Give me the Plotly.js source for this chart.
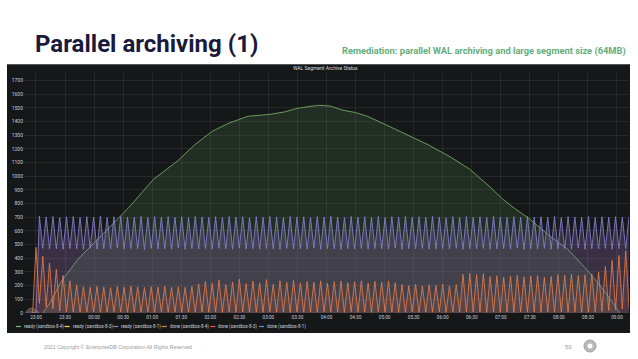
<!DOCTYPE html>
<html><head><meta charset="utf-8">
<script src="https://cdn.plot.ly/plotly-3.0.1.min.js"></script>
<style>html,body{margin:0;padding:0;background:#fff;}#chart{width:638px;height:359px;}</style>
</head><body><div id="chart"></div>
<script>
// ---- text ----
const slideTitle = 'Parallel archiving (1)';
const slideSubtitle = 'Remediation: parallel WAL archiving and large segment size (64MB)';
const panelTitle = 'WAL Segment Archive Status';
const footerText = '2021 Copyright \u00a9 EnterpriseDB Corporation All Rights Reserved';
const pageNumber = '50';

// ---- series names / colours (legend order) ----
const seriesNames = ['ready (sandbox-8-4)', 'ready (sandbox-8-3)', 'ready (sandbox-8-1)', 'done (sandbox-8-4)', 'done (sandbox-8-3)', 'done (sandbox-8-1)'];
const seriesColors = ['#73BF69', '#FADE2A', '#8A86DA', '#E8804A', '#F2495C', '#5794F2'];

// ---- ready (sandbox-8-4): clock times and values ----
const readyB4Clock = ['23:07','23:15','23:26','23:43','00:01','00:14','00:22','00:37','00:50','01:01','01:13','01:26','01:44','02:02','02:20','02:39','02:51','03:02','03:17','03:30','03:43','03:53','04:04','04:17','04:30','04:42','05:00','05:16','05:31','05:44','06:08','06:28','06:49','07:02','07:15','07:30','07:51','08:09','08:27','08:43','08:55','09:03'];
const readyB4 = [0,80,230,390,520,610,670,780,890,975,1040,1110,1230,1328,1390,1438,1445,1452,1470,1496,1510,1518,1512,1482,1465,1438,1380,1328,1280,1233,1140,1051,920,832,760,686,560,467,330,197,80,0];

// ---- small series near the start ----
const readyB3Clock = ['22:49','22:52','22:56','23:00','23:04'];
const readyB3 = [0,28,38,22,0];
const doneB3Clock = ['22:49','22:54','22:58'];
const doneB3 = [0,12,0];
const doneB1Clock = ['22:50','22:55','23:00'];
const doneB1 = [0,8,0];

// ---- sampled series (first sample 22:56:30, every 3.5 min) ----
const sampleStart = '22:56:30';
const sampleStepMin = 3.5;
const readyB1 = [0,
0,708,472,702,468,705,470,699,466,703,471,706,469,700,465,704,473,701,467,707,
470,698,468,703,474,705,466,700,471,702,469,706,464,699,472,704,468,701,470,705,
467,700,473,703,465,698,470,706,468,702,471,699,466,704,472,700,469,705,467,701,
474,703,468,697,470,704,466,700,471,706,469,702,465,699,472,705,468,701,470,703,
467,698,473,704,466,700,471,707,469,702,464,699,470,705,468,701,472,703,466,700,
471,706,469,698,467,704,473,701,465,705,470,699,468,703,472,700,466,706,469,702,
471,698,467,704,473,700,465,705,470,701,468,703,472,699,466,706,469,702,471,700,
467,704,473,698,465,705,470,701,468,703,472,700,466,706,469,699,471,704,467,702,
473,700,465,705,470,698,468,703,472,701,466,704,469,700,471,705];
const doneB4 = [
0,480,70,415,45,365,30,320,15,275,10,235,8,205,6,
192,6,188,8,195,5,190,7,186,9,194,6,189,5,197,8,191,6,187,7,193,5,190,9,196,6,188,7,192,5,189,8,195,6,
212,7,230,5,218,9,241,6,208,8,226,5,247,7,215,6,233,8,221,5,244,9,210,6,236,7,224,5,238,8,
220,6,231,7,224,5,235,8,218,6,229,7,233,5,222,9,228,6,236,7,219,5,231,8,225,6,234,7,221,5,
208,6,201,8,210,5,198,7,206,6,202,9,211,5,199,7,207,6,
283,8,290,6,281,7,287,5,
266,8,272,6,262,7,270,5,275,9,264,6,269,7,273,5,261,8,268,6,
281,7,276,5,284,8,274,6,280,7,286,9,
300,12,340,18,385,25,420,30,455,40];

// ---- axis ----
const yTickStep = 100;
const xTickStart = '23:00';

function clockToMs(c){
  const p = c.split(':').map(Number);
  const day = p[0] >= 12 ? 1 : 2;
  return Date.UTC(2021, 0, day, p[0], p[1], p[2] || 0);
}
const startMs = clockToMs(sampleStart);
const sampleTimes = readyB1.map((_, i) => startMs + i * sampleStepMin * 60000);

// layout geometry (px)
const W = 638, H = 359, ML = 24, MR = 9, MT = 73, MB = 46;
const PW = W - ML - MR, PH = H - MT - MB;
const px = x => (x - ML) / PW;
const py = y => (H - MB - y) / PH;

const SANS = 'Roboto, Liberation Sans, Arial, sans-serif';
const SMALL = 'Liberation Sans, Arial, sans-serif';

function area(name, color, fillcolor, xs, ys, width){
  return {type:'scatter', mode:'lines', name:name, x:xs, y:ys, fill:'tozeroy',
    fillcolor:fillcolor, line:{color:color, width:width}, hoverinfo:'skip', showlegend:false};
}

const traces = [
  area(seriesNames[0], '#6fa862', 'rgba(115,191,105,0.13)', readyB4Clock.map(clockToMs), readyB4, 0.9),
  area(seriesNames[1], 'rgba(200,200,190,0.6)', 'rgba(200,200,190,0.25)', readyB3Clock.map(clockToMs), readyB3, 0.6),
  area(seriesNames[4], 'rgba(242,73,92,0.5)', 'rgba(242,73,92,0.15)', doneB3Clock.map(clockToMs), doneB3, 0.5),
  area(seriesNames[5], 'rgba(87,148,242,0.5)', 'rgba(87,148,242,0.15)', doneB1Clock.map(clockToMs), doneB1, 0.5),
  area(seriesNames[2], seriesColors[2], 'rgba(150,115,180,0.28)', sampleTimes, readyB1, 0.8),
  area(seriesNames[3], seriesColors[3], 'rgba(230,110,70,0.13)', sampleTimes, doneB4, 0.8)
];

const shapes = [
  {type:'rect', xref:'paper', yref:'paper', x0:px(7), x1:px(630), y0:py(333), y1:py(64), fillcolor:'#161719', line:{width:0}, layer:'below'},
  {type:'line', xref:'paper', yref:'paper', x0:px(7), x1:px(630), y0:py(64.5), y1:py(64.5), line:{color:'#55565a', width:1}},
  {type:'circle', xref:'paper', yref:'paper', x0:px(584), x1:px(596), y0:py(352), y1:py(340), fillcolor:'#b9b9b9', line:{color:'#a0a0a0', width:1}},
  {type:'circle', xref:'paper', yref:'paper', x0:px(587.5), x1:px(592.5), y0:py(348.5), y1:py(343.5), fillcolor:'#ffffff', line:{width:0}}
];
const annotations = [
  {text:slideSubtitle, xref:'paper', yref:'paper', x:px(628), y:py(51), xanchor:'right', yanchor:'middle', showarrow:false,
    font:{family:SANS, size:9.3, color:'#63ad7c', weight:700}},
  {text:panelTitle, xref:'paper', yref:'paper', x:px(325), y:py(68.5), xanchor:'center', yanchor:'middle', showarrow:false,
    font:{family:SANS, size:5, color:'#d8d9da'}},
  {text:footerText, xref:'paper', yref:'paper', x:px(42), y:py(347), xanchor:'left', yanchor:'middle', showarrow:false,
    font:{family:SMALL, size:5.2, color:'#9a9a9a'}},
  {text:pageNumber, xref:'paper', yref:'paper', x:px(568), y:py(346.5), xanchor:'center', yanchor:'middle', showarrow:false,
    font:{family:SMALL, size:6, color:'#9a9a9a'}}
];
// manual legend
seriesNames.forEach((n, i) => {
  const x0 = 16 + 48.6 * i;
  shapes.push({type:'line', xref:'paper', yref:'paper', x0:px(x0), x1:px(x0 + 5), y0:py(326.5), y1:py(326.5), line:{color:seriesColors[i], width:1.2}});
  annotations.push({text:n, xref:'paper', yref:'paper', x:px(x0 + 6), y:py(326.5), xanchor:'left', yanchor:'middle', showarrow:false,
    font:{family:SANS, size:4.5, color:'#c7d0d9'}});
});

const layout = {
  width:W, height:H, margin:{l:ML, r:MR, t:MT, b:MB, pad:0},
  paper_bgcolor:'#ffffff', plot_bgcolor:'#161719', showlegend:false,
  title:{text:slideTitle, xref:'container', yref:'container', x:35/W, xanchor:'left', y:1 - 44/H, yanchor:'middle',
    font:{family:SANS, size:24, color:'#1a1a3c', weight:700}},
  xaxis:{type:'date', range:[clockToMs('22:47:37'), clockToMs('09:12:24')], tick0:clockToMs(xTickStart), dtick:1800000,
    tickformat:'%H:%M', showgrid:true, gridcolor:'rgba(255,255,255,0.07)', gridwidth:1, zeroline:false, showline:false,
    ticks:'', tickfont:{family:SANS, size:4.7, color:'#c7d0d9'}, fixedrange:true},
  yaxis:{range:[0, 1754], dtick:yTickStep, tick0:0, showgrid:true, gridcolor:'rgba(255,255,255,0.07)', gridwidth:1,
    zeroline:false, showline:false, ticks:'', tickfont:{family:SANS, size:5, color:'#c7d0d9'}, fixedrange:true},
  shapes:shapes, annotations:annotations
};
Plotly.newPlot('chart', traces, layout, {displayModeBar:false, staticPlot:true});
</script></body></html>
